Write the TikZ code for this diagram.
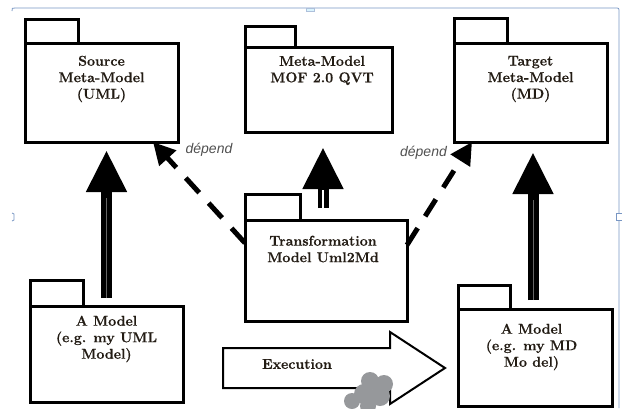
\documentclass[tikz,border=0pt]{standalone}
\usepackage{fontspec}
\newfontfamily\depfont{Liberation Sans}
\newfontfamily\pkgfont[BoldFeatures={FakeBold=0.6}]{Latin Modern Roman}
\usetikzlibrary{arrows.meta,calc}
\definecolor{inkbrown}{RGB}{35,28,20}
\definecolor{deptext}{RGB}{80,80,80}
\definecolor{framecol}{RGB}{120,150,195}
\definecolor{blobgray}{RGB}{150,152,155}
\tikzset{
  pkgbody/.style={draw, line width=3pt, fill=white, inner sep=0pt, outer sep=0pt},
  pkgtab/.style={draw, line width=3pt, fill=white},
  pkgtext/.style={font=\pkgfont\fontsize{14.2}{16.5}\selectfont\bfseries, align=center, text=inkbrown, inner sep=0pt},
  realize/.style={line width=11pt, -{Triangle[length=42pt,width=38pt]}},
  depend/.style={line width=5pt, dash pattern=on 20pt off 14pt, -{Triangle[length=22pt,width=22pt]}},
  deplabel/.style={font=\depfont\itshape\fontsize{14}{16}\selectfont, text=deptext, inner sep=0pt},
  execshape/.style={draw, line width=2pt, fill=white, line join=miter},
  blob/.style={fill=blobgray}
}
\begin{document}
\begin{tikzpicture}[x=1pt,y=-1pt]
\useasboundingbox (0,0) rectangle (622,408);

% selection frame
\draw[framecol, line width=0.8pt] (12,11) .. controls (12,8) .. (15,8) -- (615,8) .. controls (619,8) .. (619,12) -- (619,408);
\draw[framecol!60, fill=cyan!15, line width=0.5pt] (306,8) rectangle (314,11);
\draw[framecol, line width=0.8pt] (12,213) -- (14,214) -- (14,220) -- (12,221);
\draw[framecol, fill=white, line width=0.6pt] (616,213) rectangle (622,220);

% packages: body node plus tab
\node[pkgbody, minimum width=153pt, minimum height=99pt] (src) at (101.5,92.5) {};
\draw[pkgtab] (src.north west) rectangle ++(53,-24);
\node[pkgbody, minimum width=147pt, minimum height=85pt] (mof) at (318.5,89.5) {};
\draw[pkgtab] (mof.north west) rectangle ++(50,-21);
\node[pkgbody, minimum width=153pt, minimum height=99pt] (tgt) at (530.5,92.5) {};
\draw[pkgtab] (tgt.north west) rectangle ++(53,-25);
\node[pkgbody, minimum width=162pt, minimum height=101pt] (trans) at (326,270.5) {};
\draw[pkgtab] (trans.north west) rectangle ++(55,-26);
\node[pkgbody, minimum width=153pt, minimum height=96pt] (amL) at (106.5,354) {};
\draw[pkgtab] (amL.north west) rectangle ++(53,-26);
\node[pkgbody, minimum width=154pt, minimum height=97pt] (amR) at (535,357.5) {};
\draw[pkgtab] (amR.north west) rectangle ++(52,-24);

% package names
\node[pkgtext] (srcT) at (101.5,79) {Source\\Meta-Model\\(UML)};
\node[pkgtext] (mofT) at (322,70.5) {Meta-Model\\MOF 2.0 QVT};
\node[pkgtext] (tgtT) at (530.5,79) {Target\\Meta-Model\\(MD)};
\node[pkgtext] (trT) at (323,249) {Transformation\\Model Uml2Md};
\node[pkgtext] (amLT) at (106.5,339) {A Model\\(e.g. my UML\\Model)};
\node[pkgtext] (amRT) at (531.5,347) {A Model\\(e.g. my MD\\Mo del)};

% conformance arrows
\coordinate (lbot) at ([yshift=8pt]amL.north);
\draw[realize, shorten >=8pt] (lbot) -- (lbot |- src.south);
\draw[gray!80!black, line width=1pt] (lbot) -- ++(0,-100);
\coordinate (mbot) at ([xshift=-3pt,yshift=12pt]trans.north);
\draw[realize, shorten >=15pt] (mbot) -- (mbot |- mof.south);
\draw[white, line width=1.2pt] (mbot) -- ++(0,-18);
\coordinate (rbot) at ([xshift=-2pt,yshift=9pt]amR.north);
\draw[realize, shorten >=10pt] (rbot) -- (rbot |- tgt.south);
\draw[gray!80!black, line width=1pt] (rbot) -- ++(0,-100);

% dependencies
\draw[depend] ([yshift=-23pt]trans.north west) -- ([xshift=-25pt]src.south east);
\draw[depend] ([yshift=-25pt]trans.north east) -- ([xshift=18pt]tgt.south west);
\node[deplabel] (depL) at (209,150) {dépend};
\node[deplabel] (depR) at (423.5,153) {dépend};

% execution block arrow
\draw[execshape] (223,348) -- (390,348) -- (390,332) -- (445,368) -- (390,404) -- (390,388) -- (223,388) -- cycle;
\node[pkgtext] (exec) at (297,364) {Execution};

% grey clip-art blob
\fill[blob] (370,381) circle (9);
\fill[blob] (384,384) circle (9);
\fill[blob] (364,394) circle (10);
\fill[blob] (380,396) circle (10);
\fill[blob] (352,401) circle (8);
\fill[blob] (368,406) circle (8);
\end{tikzpicture}
\end{document}
